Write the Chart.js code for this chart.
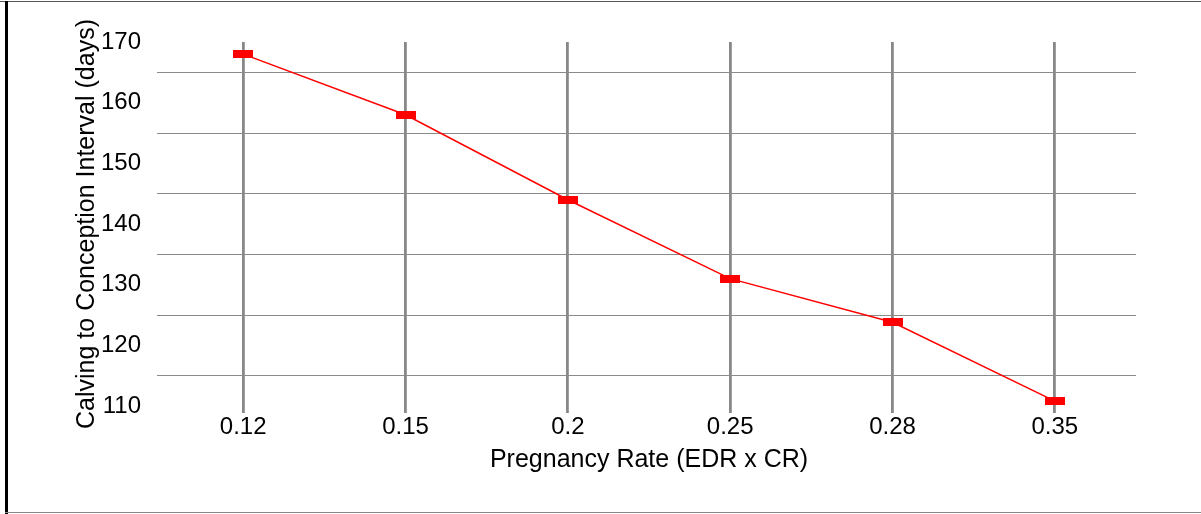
<!DOCTYPE html>
<html>
<head>
<meta charset="utf-8">
<script src="https://cdn.jsdelivr.net/npm/chart.js@4"></script>
<style>
  html, body { margin: 0; padding: 0; background: #fff; }
  #wrap { position: relative; width: 1201px; height: 514px; overflow: hidden; }
  #mainChart { position: absolute; left: 0; top: 0; }
  .edge { position: absolute; }
</style>
</head>
<body>
<div id="wrap">
  <canvas id="mainChart" width="1201" height="514"></canvas>
  <div class="edge" style="left:0;top:1px;width:1201px;height:1px;background:#555"></div>
  <div class="edge" style="left:5px;top:1px;width:3px;height:513px;background:#000"></div>
  <div class="edge" style="left:5px;top:512px;width:1196px;height:1px;background:#888"></div>
</div>
<script>
const rates = ['0.12', '0.15', '0.2', '0.25', '0.28', '0.35'];
const intervalDays = [168, 158, 144, 131, 123.8, 110.8];
const yMin = 110, yMax = 170, yStep = 10;

// flat red rectangle marker
const marker = document.createElement('canvas');
marker.width = 20;
marker.height = 8;
const mctx = marker.getContext('2d');
mctx.fillStyle = '#ff0000';
mctx.fillRect(0, 0, 20, 8);

const tickFont = { family: '"Liberation Sans", Arial, sans-serif', size: 24 };
const titleFont = { family: '"Liberation Sans", Arial, sans-serif', size: 25 };

new Chart(document.getElementById('mainChart'), {
    type: 'line',
    data: {
        labels: rates,
        datasets: [{
            data: intervalDays,
            borderColor: '#ff0000',
            borderWidth: 1.5,
            pointStyle: marker,
            pointRadius: 10,
            tension: 0
        }]
    },
    options: {
        responsive: false,
        animation: false,
        layout: { padding: { top: 42, right: 65, bottom: 34, left: 60 } },
        plugins: { legend: { display: false }, tooltip: { enabled: false } },
        scales: {
            x: {
                offset: true,
                border: { display: false },
                grid: { offset: false, color: '#888', lineWidth: 2.8, tickLength: 7 },
                ticks: { color: '#000', font: tickFont, padding: 0, maxRotation: 0 },
                title: { display: true, text: 'Pregnancy Rate (EDR x CR)', color: '#000', font: titleFont, padding: { top: 4, bottom: 5 } },
                afterFit: (scale) => { scale.height = 74; }
            },
            y: {
                min: yMin,
                max: yMax,
                border: { display: false },
                grid: { offset: true, color: '#8a8a8a', lineWidth: 1, tickLength: 5 },
                ticks: { stepSize: yStep, color: '#000', font: tickFont, padding: 16 },
                title: { display: true, text: 'Calving to Conception Interval (days)', color: '#000', font: titleFont, padding: { top: 12, bottom: 0 } },
                afterFit: (scale) => { scale.width = 102; }
            }
        }
    }
});
</script>
</body>
</html>
